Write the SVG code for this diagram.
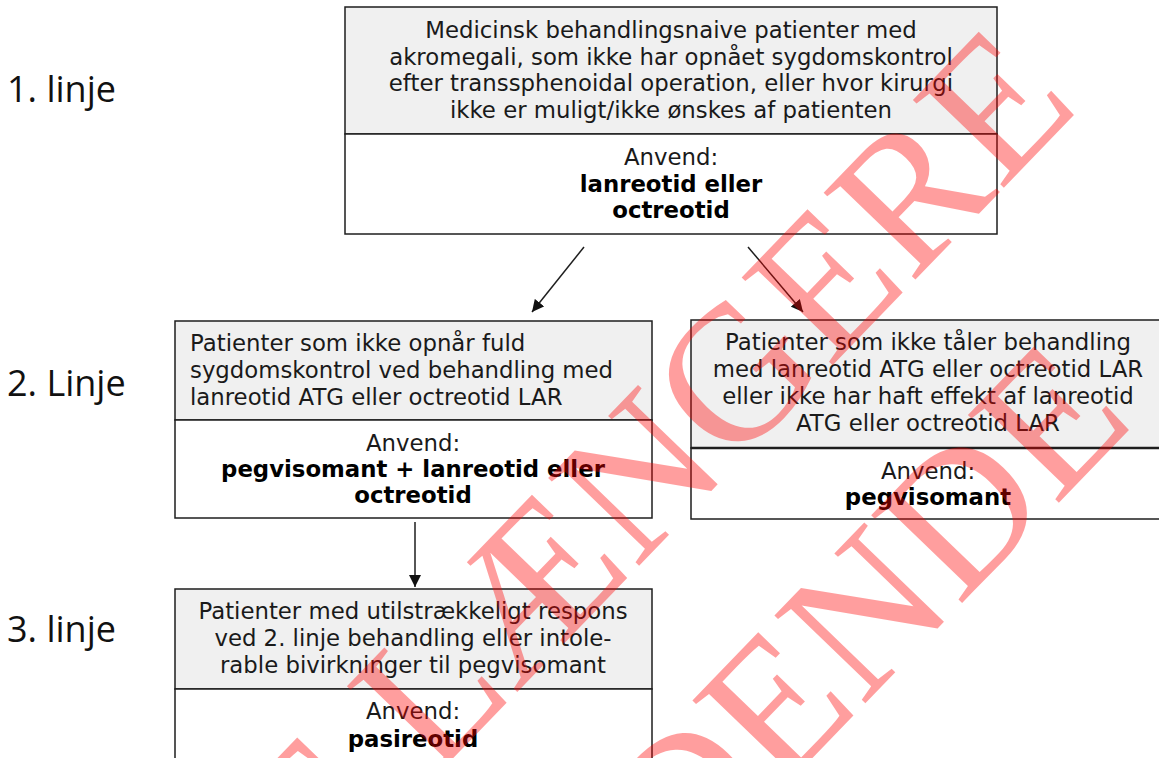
<svg xmlns="http://www.w3.org/2000/svg" width="1159" height="758" viewBox="0 0 1159 758">
<defs>
<style>
.box{fill:#ffffff;stroke:#1e1e1e;stroke-width:1.5}
.hd{fill:#f0f0f0;stroke:#1e1e1e;stroke-width:1.5}
.t{font-family:"DejaVu Sans","Liberation Sans",sans-serif;font-size:22.8px;fill:#1a1a1a}
.c{text-anchor:middle}
.b{font-weight:bold;fill:#000}
.lbl{font-family:"Open Sans","Liberation Sans",sans-serif;font-size:36px;fill:#111}
.wm{font-family:"Liberation Serif","DejaVu Serif",serif;font-size:193px;fill:#ff0000;fill-opacity:0.38}
.con{stroke:#1e1e1e;stroke-width:1.5;fill:none;marker-end:url(#ah)}
</style>
<marker id="ah" viewBox="0 0 12 12" refX="12" refY="6" markerWidth="12" markerHeight="12" markerUnits="userSpaceOnUse" orient="auto">
<path d="M0,0 L12,6 L0,12 z" fill="#111"/>
</marker>
</defs>
<rect width="1159" height="758" fill="#ffffff"/>

<g id="labels">
<text class="lbl" x="7" y="102">1. linje</text>
<text class="lbl" x="7" y="396">2. Linje</text>
<text class="lbl" x="7" y="642">3. linje</text>
</g>

<g id="connectors">
<path d="M584,247 L532,312" class="con"/>
<path d="M748,247 L803,312" class="con"/>
<path d="M415,522 L415,587" class="con"/>
</g>

<g id="node1">
<rect class="hd" x="345" y="7" width="652" height="127"/>
<rect class="box" x="345" y="134" width="652" height="100"/>
<text class="t c" x="671" y="38">Medicinsk behandlingsnaive patienter med</text>
<text class="t c" x="671" y="64.7">akromegali, som ikke har opnået sygdomskontrol</text>
<text class="t c" x="671" y="91.4">efter transsphenoidal operation, eller hvor kirurgi</text>
<text class="t c" x="671" y="118">ikke er muligt/ikke ønskes af patienten</text>
<text class="t c" x="671" y="165">Anvend:</text>
<text class="t c b" x="671" y="192">lanreotid eller</text>
<text class="t c b" x="671" y="218">octreotid</text>
</g>

<g id="node2">
<rect class="hd" x="175" y="321" width="477" height="99"/>
<rect class="box" x="175" y="420" width="477" height="98"/>
<text class="t" x="190" y="351">Patienter som ikke opnår fuld</text>
<text class="t" x="190" y="378">sygdomskontrol ved behandling med</text>
<text class="t" x="190" y="405">lanreotid ATG eller octreotid LAR</text>
<text class="t c" x="413" y="451">Anvend:</text>
<text class="t c b" x="413" y="477">pegvisomant + lanreotid eller</text>
<text class="t c b" x="413" y="503">octreotid</text>
</g>

<g id="node3">
<rect class="hd" x="691" y="320" width="472" height="128"/>
<rect class="box" x="691" y="448" width="472" height="71"/>
<line x1="691" y1="448" x2="1159" y2="448" stroke="#1e1e1e" stroke-width="2.5"/>
<text class="t c" x="928" y="350">Patienter som ikke tåler behandling</text>
<text class="t c" x="928" y="377">med lanreotid ATG eller octreotid LAR</text>
<text class="t c" x="928" y="404">eller ikke har haft effekt af lanreotid</text>
<text class="t c" x="928" y="431">ATG eller octreotid LAR</text>
<text class="t c" x="928" y="479">Anvend:</text>
<text class="t c b" x="928" y="505">pegvisomant</text>
</g>

<g id="node4">
<rect class="hd" x="175" y="589" width="477" height="100"/>
<rect class="box" x="175" y="689" width="477" height="80"/>
<text class="t c" x="413" y="619">Patienter med utilstrækkeligt respons</text>
<text class="t c" x="413" y="646">ved 2. linje behandling eller intole-</text>
<text class="t c" x="413" y="673">rable bivirkninger til pegvisomant</text>
<text class="t c" x="413" y="719">Anvend:</text>
<text class="t c b" x="413" y="747">pasireotid</text>
</g>

<g id="watermark">
<text class="wm" text-anchor="end" transform="translate(1082,107) rotate(-46)">IKKE LÆNGERE</text>
<text class="wm" text-anchor="end" transform="translate(1137,422) rotate(-46)">GÆLDENDE</text>
</g>
</svg>
